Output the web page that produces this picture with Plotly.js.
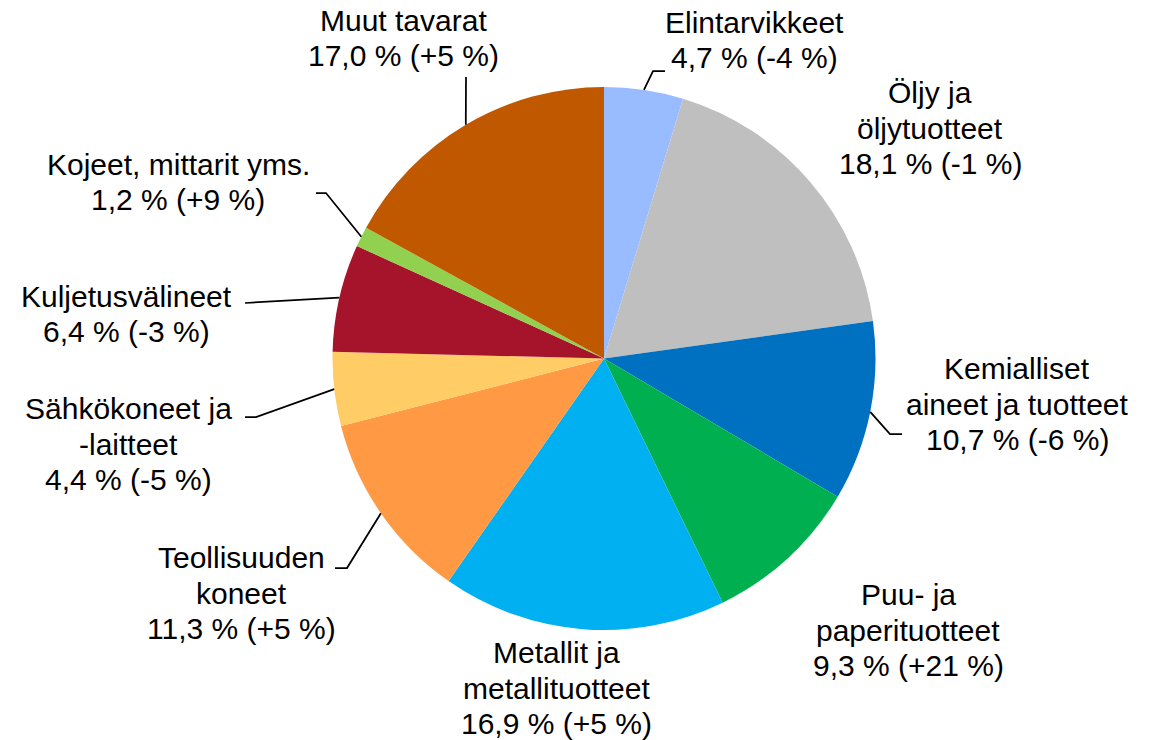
<!DOCTYPE html>
<html>
<head>
<meta charset="utf-8">
<script src="https://cdn.plot.ly/plotly-3.0.1.min.js"></script>
<style>html,body{margin:0;padding:0;background:#fff;}#chart{width:1155px;height:740px;}</style>
</head>
<body>
<div id="chart"></div>
<script>
// ---- Data ----
const categories = [
  "Elintarvikkeet",
  "Öljy ja<br>öljytuotteet",
  "Kemialliset<br>aineet ja tuotteet",
  "Puu- ja<br>paperituotteet",
  "Metallit ja<br>metallituotteet",
  "Teollisuuden<br>koneet",
  "Sähkökoneet ja<br>-laitteet",
  "Kuljetusvälineet",
  "Kojeet, mittarit yms.",
  "Muut tavarat"
];
const shares = [4.7, 18.1, 10.7, 9.3, 16.9, 11.3, 4.4, 6.4, 1.2, 17.0];
const changes = ["-4", "-1", "-6", "+21", "+5", "+5", "-5", "-3", "+9", "+5"];
const colors = ["#99BBFF", "#BFBFBF", "#0070C0", "#00B050", "#00B0F0",
                "#FF9944", "#FFCC66", "#A6142C", "#92D050", "#C05800"];

// ---- Layout (positions in pixels) ----
const W = 1155, H = 740;
const pieLeft = 332.5, pieRight = 875.5, pieTop = 87, pieBottom = 630;
const cx = (pieLeft + pieRight) / 2, cy = (pieTop + pieBottom) / 2;
const R = (pieRight - pieLeft) / 2;
const lineGap = 35.5;
// label block centres (px)
const labelPos = [
  [754, 40], [930, 128], [1017, 404], [908, 630], [556, 688],
  [241, 593], [128, 444], [126, 314], [178, 182], [403, 38]
];
// leader lines: [startX, startY, elbowX, elbowY] or null
const leaders = [
  [665, 71, 653, 71], null, [902, 434, 890, 434], null, null,
  [335, 568, 347, 568], [245, 417, 256, 417], [245, 303, 245, 303],
  [316, 193, 326, 193], [466, 77, 466, 77]
];

const px = x => x / W, py = y => 1 - y / H;
const fmt = v => v.toFixed(1).replace(".", ",");

const total = shares.reduce((a, b) => a + b, 0);
let cum = 0;
const annotations = [], shapes = [];
shares.forEach((v, i) => {
  const mid = (cum + v / 2) / total * 2 * Math.PI;
  cum += v;
  const ex = cx + R * Math.sin(mid), ey = cy - R * Math.cos(mid);
  const lines = categories[i].split("<br>").concat([fmt(v) + " % (" + changes[i] + " %)"]);
  const n = lines.length;
  lines.forEach((t, k) => {
    const yy = labelPos[i][1] + (k - (n - 1) / 2) * lineGap;
    annotations.push({
      xref: "paper", yref: "paper",
      x: px(labelPos[i][0]), y: py(yy),
      xanchor: "center", yanchor: "middle",
      text: t, showarrow: false,
      font: {family: "Liberation Sans, Arial, sans-serif", size: 30, color: "#000"}
    });
  });
  const L = leaders[i];
  if (L) {
    shapes.push({
      type: "path", xref: "paper", yref: "paper",
      path: "M " + px(L[0]) + "," + py(L[1]) + " L " + px(L[2]) + "," + py(L[3]) +
            " L " + px(ex) + "," + py(ey),
      line: {color: "#000", width: 1.75}
    });
  }
});

const trace = {
  type: "pie",
  values: shares,
  labels: categories,
  marker: {colors: colors, line: {width: 0}},
  sort: false,
  direction: "clockwise",
  rotation: 0,
  textinfo: "none",
  hoverinfo: "label+value",
  domain: {x: [px(pieLeft), px(pieRight)], y: [py(pieBottom), py(pieTop)]},
  showlegend: false
};

const layout = {
  width: W, height: H,
  margin: {l: 0, r: 0, t: 0, b: 0},
  paper_bgcolor: "#fff",
  showlegend: false,
  annotations: annotations,
  shapes: shapes
};

Plotly.newPlot("chart", [trace], layout, {displayModeBar: false, staticPlot: true});
</script>
</body>
</html>
